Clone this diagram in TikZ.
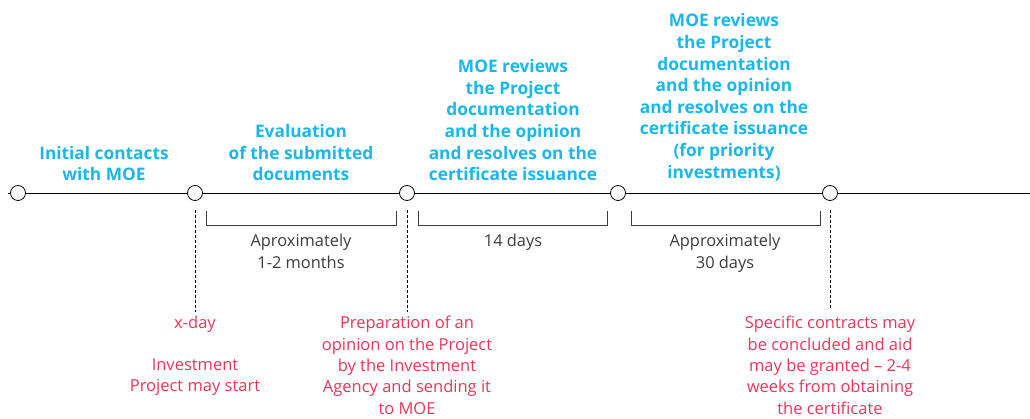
\documentclass[tikz,border=0pt]{standalone}
\usepackage{fontspec}
\setmainfont{Open Sans}
\definecolor{moeblue}{HTML}{1AB8E8}
\definecolor{moered}{HTML}{E8365A}
\definecolor{spangray}{HTML}{3C3C3C}
\begin{document}
\begin{tikzpicture}[x=1pt, y=1pt,
        stage/.style={circle, draw, thick, fill=white, minimum size=15pt, inner sep=0pt},
        title/.style={anchor=south, align=center, inner sep=0pt, text=moeblue, font=\fontsize{17.3}{21.6}\selectfont\bfseries},
        span/.style={anchor=north, align=center, inner sep=0pt, text=spangray, font=\fontsize{16.4}{21.5}\selectfont},
        note/.style={anchor=north, align=center, inner sep=0pt, text=moered, font=\fontsize{16.5}{21.3}\selectfont},
        brace/.style={thin, draw=spangray},
        dropline/.style={densely dashed, thin}
        ]
      \useasboundingbox (0,0) rectangle (1030,-419);
      \coordinate (start) at (8,-193);
      \coordinate (finish) at (1030,-193);
      \draw[thin] (start) -- (finish);

      \node[stage] (c1) at (18,-193) {};
      \node[stage] (c2) at (195,-193) {};
      \node[stage] (c3) at (407,-193) {};
      \node[stage] (c4) at (618,-193) {};
      \node[stage] (c5) at (830,-193) {};

      % stage titles
      \node[title] (t1) at (104,-181) {Initial contacts\\with MOE};
      \node[title] (t2) at (301,-181) {Evaluation\\of the submitted\\documents};
      \node[title] (t3) at (513,-181) {MOE reviews\\the Project\\documentation\\and the opinion\\and resolves on the\\certificate issuance};
      \node[title] (t4) at (724,-181) {MOE reviews\\the Project\\documentation\\and the opinion\\and resolves on the\\certificate issuance\\(for priority\\investments)};

      % durations
      \draw[brace] ([xshift=11pt, yshift=-18pt]c2.center) |- ([xshift=-11pt, yshift=-32pt]c3.center) -- ([xshift=-11pt, yshift=-18pt]c3.center);
      \draw[brace] ([xshift=11pt, yshift=-18pt]c3.center) |- ([xshift=-11pt, yshift=-32pt]c4.center) -- ([xshift=-11pt, yshift=-18pt]c4.center);
      \draw[brace] ([xshift=13pt, yshift=-18pt]c4.center) |- ([xshift=-10pt, yshift=-32pt]c5.center) -- ([xshift=-10pt, yshift=-18pt]c5.center);
      \node[span] (d1) at (301,-234) {Aproximately\\1-2 months};
      \node[span] (d2) at (513,-234) {14 days};
      \node[span] (d3) at (725,-234) {Approximately\\30 days};

      % milestones
      \coordinate (m1) at (195,-312);
      \coordinate (m2) at (407,-312);
      \coordinate (m3) at (830,-308);
      \draw[dropline] ([yshift=-17pt]c2.center) -- (m1);
      \draw[dropline] ([yshift=-17pt]c3.center) -- (m2);
      \draw[dropline] ([yshift=-17pt]c5.center) -- (m3);
      \node[note] (n1) at (195,-316) {x-day\\[20pt]Investment\\Project may start};
      \node[note] (n2) at (407,-316) {Preparation of an\\opinion on the Project\\by the Investment\\Agency and sending it\\to MOE};
      \node[note] (n3) at (830,-316) {Specific contracts may\\be concluded and aid\\may be granted – 2-4\\weeks from obtaining\\the certificate};
    \end{tikzpicture}
\end{document}
